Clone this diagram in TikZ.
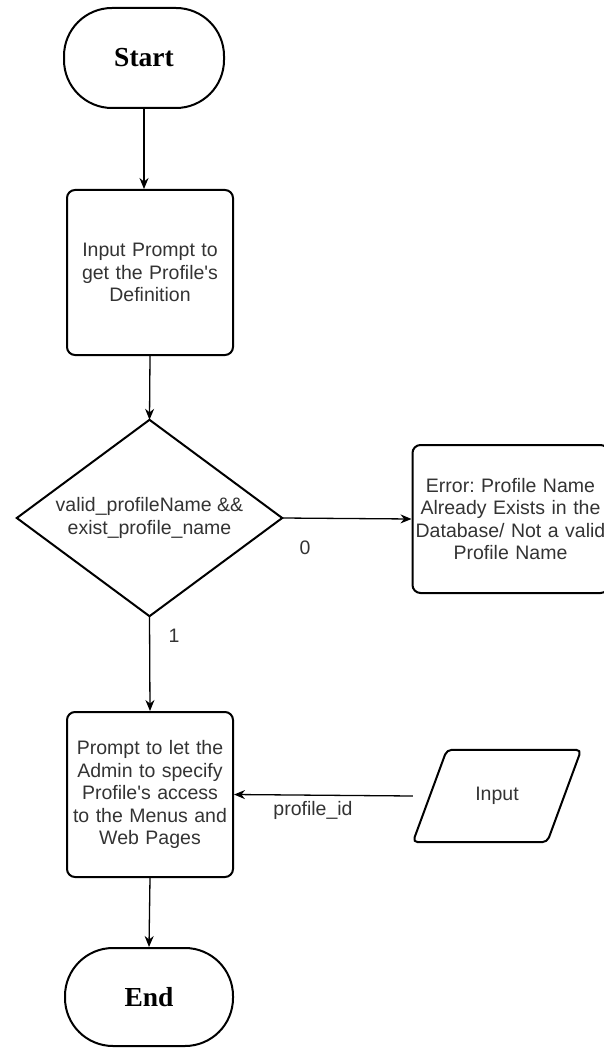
\documentclass[tikz,border=0pt]{standalone}
\usepackage{fontspec}
\newfontfamily\diagfont{Liberation Sans}
\newfontfamily\termfont{Liberation Serif}
\usetikzlibrary{arrows.meta,calc}
\frenchspacing
\begin{document}
\begin{tikzpicture}[x=1pt,y=-1pt,
  font=\diagfont\fontsize{19.5}{22.5}\selectfont,
  shapeline/.style={draw=black,line width=2pt},
  terminal/.style={shapeline,rounded corners=48pt,minimum height=100pt,inner sep=0pt,
    font=\termfont\bfseries\fontsize{27.5}{30}\selectfont},
  process/.style={shapeline,rounded corners=8pt,minimum width=166pt,minimum height=165pt,
    align=center,text width=160pt,inner sep=0pt,text=black!80},
  flow/.style={draw=black,line width=1.3pt,-{Stealth[length=11pt,width=9pt]}},
  lbl/.style={text=black!80,inner sep=0pt}
]
\useasboundingbox (0,0) rectangle (604,1048);

% terminals
\node[terminal,minimum width=160pt] (start) at (144,58) {Start};
\node[terminal,minimum width=168pt,minimum height=98pt] (finish) at (149,997) {End};

% process boxes
\node[process] (define) at (150,272.5) {Input Prompt to\\get the Profile's\\Definition};
\node[process] (access) at (150,794.5) {Prompt to let the\\Admin to specify\\Profile's access\\to the Menus and\\Web Pages};
\node[process,minimum width=196pt,minimum height=148pt,text width=192pt] (error) at (510.5,519)
  {Error: Profile Name\\Already Exists in the\\Database/ Not a valid\\Profile Name};

% decision
\node[minimum width=265pt,minimum height=196pt,inner sep=0pt,align=center,text=black!80] (check) at (149.5,518)
  {valid\_profileName \&\&\\exist\_profile\_name};
\draw[shapeline,line join=miter] (check.north) -- (check.east) -- (check.south) -- (check.west) -- cycle;

% input (parallelogram)
\node[minimum width=168pt,minimum height=92pt,inner sep=0pt,text=black!80] (input) at (497,796) {Input};
\draw[shapeline,rounded corners=5pt]
  (input.south west) -- ($(input.north west)+(34,0)$) -- (input.north east)
  -- ($(input.south east)+(-34,0)$) -- cycle;

% connectors
\draw[flow] (start.south) -- (start.south |- define.north);
\draw[flow] (define.south) -- (check.north);
\draw[flow] (check.east) -- (error.west);
\draw[flow] (check.south) -- (access.north);
\draw[flow] (input.west) -- (access.east);
\draw[flow] (access.south) -- (finish.north);

% connector labels
\node[lbl] (no) at (305,548) {0};
\node[lbl] (yes) at (174,636) {1};
\node[lbl] (pid) at (313,810) {profile\_id};
\end{tikzpicture}
\end{document}
